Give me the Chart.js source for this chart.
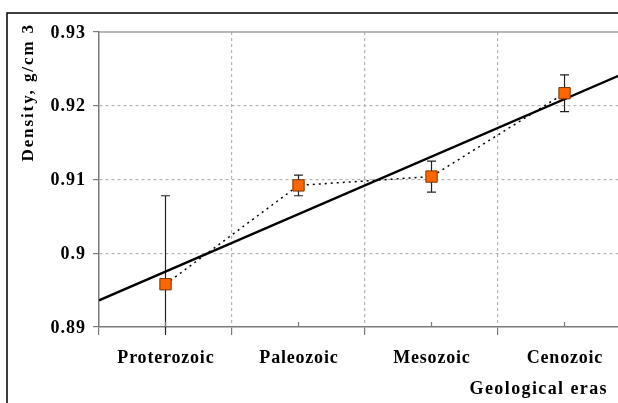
<!DOCTYPE html>
<html>
<head>
<meta charset="utf-8">
<script src="https://cdn.jsdelivr.net/npm/chart.js@4.4.1/dist/chart.umd.min.js"></script>
<style>
  html, body { margin: 0; padding: 0; background: #fff; }
  #wrap { width: 618px; height: 403px; }
</style>
</head>
<body>
<div id="wrap"><canvas id="densityChart" width="618" height="403"></canvas></div>
<script>
// data
const eras       = ["Proterozoic", "Paleozoic", "Mesozoic", "Cenozoic"];
const density    = [0.8958, 0.9092, 0.9104, 0.9217];
const densityErr = [0.0120, 0.0014, 0.0021, 0.0025];
const trendX     = [-0.5, 3.5];
const trendY     = [0.8936, 0.9248];
const yTicks     = [0.89, 0.90, 0.91, 0.92, 0.93];
const xTicks     = [-0.5, 0, 0.5, 1, 1.5, 2, 2.5, 3];

const serif = "'Liberation Serif', 'Times New Roman', serif";
const axisGray = "#7a7a7a";
const gridGray = "#b4b4b4";

function spaced(ctx, px) {
    if ("letterSpacing" in ctx) ctx.letterSpacing = px + "px";
}

const decor = {
    id: "decor",
    beforeDraw(chart) {
        const ctx = chart.ctx;
        ctx.save();
        ctx.fillStyle = "#fff";
        ctx.fillRect(0, 0, chart.width, chart.height);
        ctx.restore();
    },
    beforeDatasetsDraw(chart) {
        const { ctx, chartArea: a, scales: { x, y } } = chart;
        ctx.save();
        // solid top border of plot area
        ctx.strokeStyle = "#a0a0a0";
        ctx.lineWidth = 1.5;
        ctx.beginPath();
        ctx.moveTo(a.left, a.top);
        ctx.lineTo(a.right, a.top);
        ctx.stroke();

        // error bars
        ctx.beginPath();
        ctx.rect(a.left, a.top - 10, a.right - a.left, a.bottom - a.top + 18);
        ctx.clip();
        ctx.strokeStyle = "#222";
        ctx.lineWidth = 1.2;
        density.forEach((v, i) => {
            const px = x.getPixelForValue(i);
            const top = y.getPixelForValue(v + densityErr[i]);
            const bot = y.getPixelForValue(v - densityErr[i]);
            ctx.beginPath();
            ctx.moveTo(px, top); ctx.lineTo(px, bot);
            ctx.moveTo(px - 4.5, top); ctx.lineTo(px + 4.5, top);
            ctx.moveTo(px - 4.5, bot); ctx.lineTo(px + 4.5, bot);
            ctx.stroke();
        });
        ctx.restore();
    },
    afterDraw(chart) {
        const { ctx, chartArea: a, scales: { x, y } } = chart;
        ctx.save();
        // inward ticks at category centres
        ctx.strokeStyle = axisGray;
        ctx.lineWidth = 1.2;
        eras.forEach((e, i) => {
            const px = x.getPixelForValue(i);
            ctx.beginPath();
            ctx.moveTo(px, a.bottom);
            ctx.lineTo(px, a.bottom - 5);
            ctx.stroke();
        });

        // outer frame (left and top)
        ctx.strokeStyle = "#000";
        ctx.lineWidth = 1.5;
        ctx.beginPath();
        ctx.moveTo(7, chart.height);
        ctx.lineTo(7, 13);
        ctx.lineTo(chart.width, 13);
        ctx.stroke();

        ctx.fillStyle = "#000";
        ctx.textBaseline = "middle";

        // y tick labels
        ctx.font = "bold 18px " + serif;
        spaced(ctx, 1);
        ctx.textAlign = "right";
        yTicks.forEach(v => {
            ctx.fillText(String(+v.toFixed(2)), 86, y.getPixelForValue(v) + 1);
        });

        // category labels
        ctx.font = "bold 18px " + serif;
        spaced(ctx, 0.8);
        ctx.textAlign = "center";
        eras.forEach((e, i) => {
            ctx.fillText(e, x.getPixelForValue(i) + 0.4, 358);
        });

        // axis titles
        ctx.font = "bold 18px " + serif;
        spaced(ctx, 1.4);
        ctx.textAlign = "right";
        ctx.fillText("Geological eras", 608, 389);

        ctx.font = "bold 17px " + serif;
        spaced(ctx, 1.9);
        ctx.translate(29, 23);
        ctx.rotate(-Math.PI / 2);
        ctx.textAlign = "right";
        ctx.fillText("Density, g/cm 3", 0, 0);
        ctx.restore();
    }
};

new Chart(document.getElementById("densityChart"), {
    type: "scatter",
    data: {
        datasets: [
            {
                label: "Density",
                data: density.map((v, i) => ({ x: i, y: v })),
                showLine: true,
                borderColor: "#000",
                borderWidth: 1.5,
                borderDash: [2, 4],
                pointStyle: "rect",
                pointRadius: 8,
                pointHoverRadius: 8,
                pointBackgroundColor: "#ff6600",
                pointBorderColor: "#7a3300",
                pointBorderWidth: 1,
                order: 0
            },
            {
                label: "Trend",
                data: trendX.map((v, i) => ({ x: v, y: trendY[i] })),
                showLine: true,
                borderColor: "#000",
                borderWidth: 2.5,
                pointRadius: 0,
                order: 1
            }
        ]
    },
    options: {
        responsive: false,
        animation: false,
        layout: { autoPadding: false, padding: { top: 32, right: 0, left: 0, bottom: 0 } },
        plugins: { legend: { display: false }, tooltip: { enabled: false } },
        scales: {
            x: {
                type: "linear",
                min: -0.5,
                max: 3.402,
                afterBuildTicks: s => { s.ticks = xTicks.map(v => ({ value: v })); },
                afterFit: s => { s.height = 76; },
                ticks: { autoSkip: false, maxRotation: 0, callback: () => "" },
                grid: {
                    color: c => (c.tick && Math.abs(c.tick.value % 1) === 0.5 && c.tick.value > 0) ? gridGray : "rgba(0,0,0,0)",
                    tickColor: c => (c.tick && Math.abs(c.tick.value % 1) === 0.5) ? axisGray : "rgba(0,0,0,0)",
                    tickLength: 8,
                    lineWidth: 1.2
                },
                border: { color: axisGray, width: 1.5, dash: [3, 3] }
            },
            y: {
                min: 0.89,
                max: 0.93,
                afterBuildTicks: s => { s.ticks = yTicks.map(v => ({ value: v })); },
                afterFit: s => { s.width = 99; },
                ticks: { callback: () => "" },
                grid: {
                    color: c => (c.tick && c.tick.value > 0.895 && c.tick.value < 0.925) ? gridGray : "rgba(0,0,0,0)",
                    tickColor: axisGray,
                    tickLength: 6,
                    lineWidth: 1.2
                },
                border: { color: axisGray, width: 1.5, dash: [3, 3] }
            }
        }
    },
    plugins: [decor]
});
</script>
</body>
</html>
